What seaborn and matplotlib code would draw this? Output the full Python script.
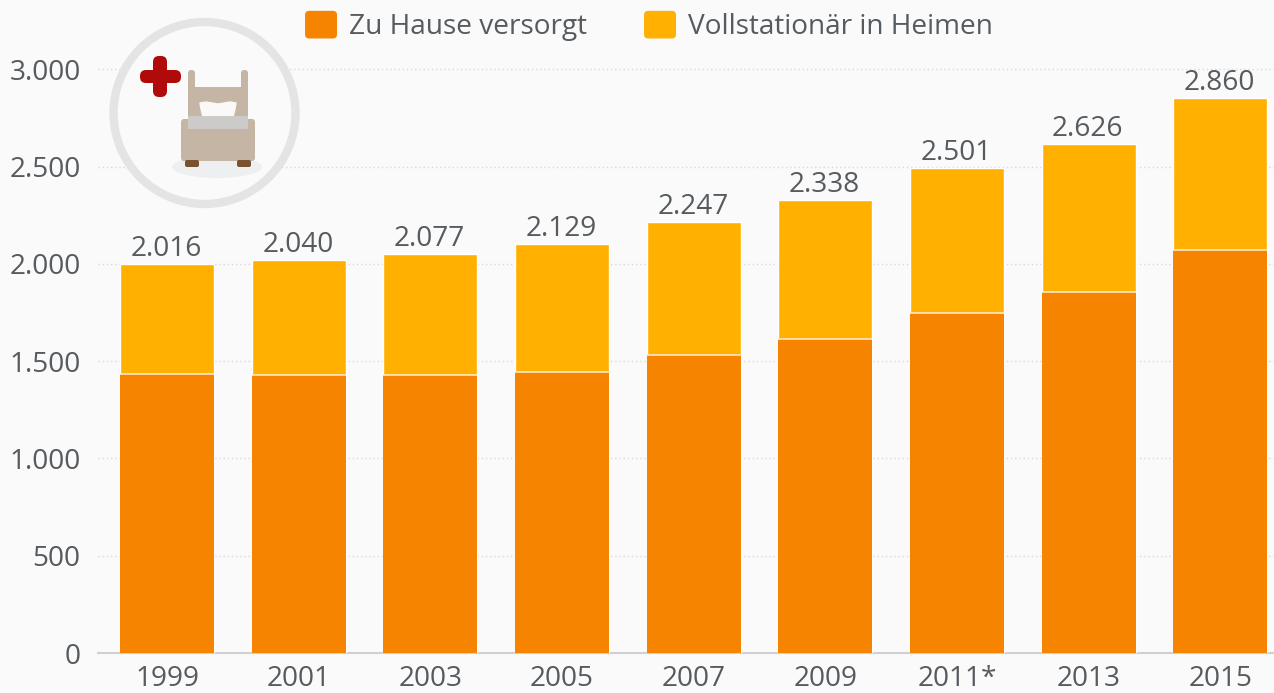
import matplotlib
matplotlib.use('Agg')
import matplotlib.pyplot as plt
import pandas as pd
import seaborn as sns
from matplotlib.patches import Circle, Ellipse, FancyBboxPatch, Patch, Polygon
from matplotlib.legend_handler import HandlerPatch

years = ['1999', '2001', '2003', '2005', '2007', '2009', '2011*', '2013', '2015']
zu_hause = [1434, 1429, 1430, 1444, 1531, 1614, 1747, 1855, 2071]
heime = [565, 591, 620, 658, 684, 714, 745, 761, 781]
labels = ['2.016', '2.040', '2.077', '2.129', '2.247', '2.338', '2.501', '2.626', '2.860']
y_ticks = [0, 500, 1000, 1500, 2000, 2500, 3000]
y_labels = ['0', '500', '1.000', '1.500', '2.000', '2.500', '3.000']

ORANGE = '#F78400'
YELLOW = '#FFB000'
BG = '#FAFAFA'
GREY = '#565B5F'
FS = 20.2


class RoundHandler(HandlerPatch):
    def create_artists(self, legend, orig, xd, yd, w, h, fs, trans):
        p = FancyBboxPatch((3 - xd, 3 - yd), w - 6, h - 6, boxstyle='round,pad=3,rounding_size=3',
                           fc=orig.get_facecolor(), ec='none', transform=trans)
        return [p]


sns.set_theme(style='white')
plt.rcParams['font.family'] = ['Open Sans', 'DejaVu Sans']

df = pd.DataFrame({'year': years, 'home': zu_hause, 'heim': heime})
df['total'] = df['home'] + df['heim']

fig = plt.figure(figsize=(12.74, 6.93), dpi=100, facecolor=BG)
ax = fig.add_axes([98 / 1274, 40 / 693, 1 - 98 / 1274, 653 / 693])
ax.set_facecolor('none')

# gestapelt: erst die Summe, dann der untere Teil darueber
sns.barplot(data=df, x='year', y='total', color=YELLOW, width=0.714, saturation=1, ax=ax, zorder=3)
sns.barplot(data=df, x='year', y='home', color=ORANGE, width=0.714, saturation=1, ax=ax, zorder=4,
            edgecolor='#FFF3E0', linewidth=0)
for c in ax.patches[len(years):]:
    x, w, h = c.get_x(), c.get_width(), c.get_height()
    ax.plot([x, x + w], [h, h], color='#FFE9C8', lw=1.2, zorder=5, solid_capstyle='butt')

for i, lab in enumerate(labels):
    ax.annotate(lab, (i, df['total'][i]), xytext=(-0.5, 1), textcoords='offset points', ha='center', va='bottom',
                fontsize=FS, color=GREY, zorder=6)

ax.set_xlim((98 - 167) / 131.65, (1274 - 167) / 131.65)
ax.set_ylim(0, 653 / 97.3 * 500)
ax.set_yticks(y_ticks, y_labels)
ax.set_xlabel('')
ax.set_ylabel('')
ax.tick_params(axis='both', length=0, labelsize=FS, labelcolor=GREY)
ax.tick_params(axis='y', pad=12.5)
ax.tick_params(axis='x', pad=9)
ax.yaxis.grid(True, color='#D9D9D9', linestyle=(0, (1, 2)), linewidth=1, zorder=0)
ax.set_axisbelow(True)
sns.despine(ax=ax, left=True, right=True, top=True)
ax.spines['bottom'].set_color('#CFCFD4')
ax.spines['bottom'].set_linewidth(1.5)

handles = [Patch(facecolor=ORANGE, label='Zu Hause versorgt'), Patch(facecolor=YELLOW, label='Vollstationär in Heimen')]
leg = fig.legend(handles=handles, loc='center', bbox_to_anchor=(649 / 1274, 1 - 26 / 693), ncol=2, frameon=False,
                 fontsize=FS, labelcolor=GREY, handlelength=1.14, handleheight=1.14, handletextpad=0.43,
                 columnspacing=2.03, handler_map={Patch: RoundHandler()})

# Symbol oben links, in Pixelkoordinaten
ic = fig.add_axes([0, 0, 1, 1], zorder=5)
ic.set_xlim(0, 1274)
ic.set_ylim(693, 0)
ic.axis('off')
ic.add_patch(Circle((204.5, 113), 91, fc=BG, ec='#E4E4E4', lw=6))
ic.add_patch(Ellipse((217, 167), 90, 22, fc='#EDEFF0', ec='none'))
BED = '#C4B5A5'


def rbox(x, y, w, h, col, r=2):
    ic.add_patch(FancyBboxPatch((x + r, y + r), w - 2 * r, h - 2 * r, boxstyle=f'round,pad={r},rounding_size={r}',
                                fc=col, ec='none'))


rbox(188, 70, 7, 50, BED, 3)
rbox(241, 70, 7, 50, BED, 3)
rbox(188, 87, 60, 35, BED, 1)
ic.add_patch(Polygon([(200, 103), (206, 102), (218, 104), (230, 102), (236, 103), (235, 109), (233, 117), (203, 117),
                      (201, 109)], fc='#FBF9F7', ec='#FBF9F7', lw=1, joinstyle='round'))
rbox(181, 119, 74, 42, BED, 3)
rbox(188, 116, 60, 13, '#CCCBCA', 1)
rbox(185, 160, 14, 7, '#7A5230', 2)
rbox(237, 160, 14, 7, '#7A5230', 2)
rbox(153, 56, 14, 41, '#B00A0A', 6)
rbox(140, 70, 41, 13, '#B00A0A', 6)

fig.savefig('out.png', dpi=100, facecolor=BG)
